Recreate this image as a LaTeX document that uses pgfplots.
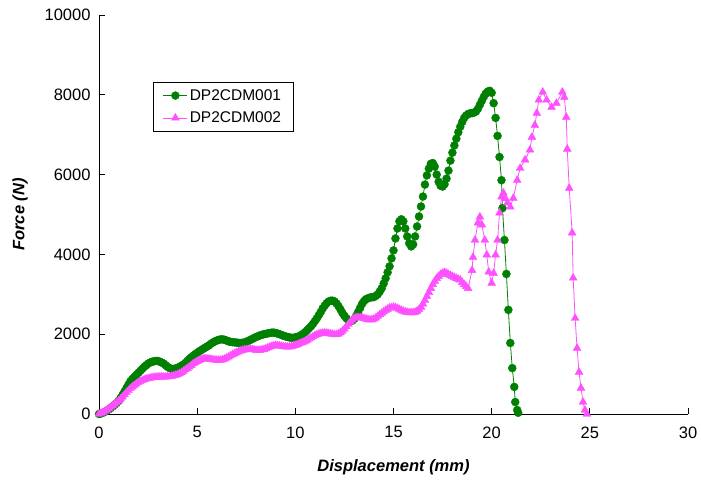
\documentclass[border=0pt]{standalone}
\usepackage{pgfplots}
\pgfplotsset{compat=1.18}
\usepackage{fontspec}
\setmainfont{Liberation Sans}
\definecolor{dgreen}{RGB}{0,128,0}
\definecolor{lpink}{RGB}{255,80,255}
\begin{document}
\begin{tikzpicture}
\useasboundingbox (-99pt,-68pt) rectangle (602pt,414pt);
\begin{axis}[
  scale only axis, width=589pt, height=399pt,
  xmin=0, xmax=30, ymin=0, ymax=10000,
  xtick={0,5,...,30}, ytick={0,2000,...,10000},
  scaled y ticks=false,
  axis x line*=bottom, axis y line*=left,
  tick align=inside, major tick length=6pt,
  tick style={black, line width=0.8pt},
  axis line style={black, line width=0.8pt},
  font=\fontsize{16.5}{19}\selectfont,
  /pgf/number format/assume math mode=true,
  /pgf/number format/1000 sep={},
  xticklabel style={yshift=-9pt},
  yticklabel style={xshift=-5pt},
  xlabel={\bfseries\itshape Displacement (mm)},
  ylabel={\bfseries\itshape Force (N)},
  every axis x label/.style={at={(axis description cs:0.5,-0.133)},anchor=center},
  every axis y label/.style={at={(axis description cs:-0.134,0.5)},rotate=90,anchor=center},
  legend style={at={(0.091,0.832)}, anchor=north west, draw=black, line width=0.8pt,
    font=\fontsize{15.5}{18}\selectfont, row sep=6pt, inner xsep=10pt, inner ysep=5pt,
    legend cell align=left},
  legend image code/.code={\draw[#1] (0pt,0pt) -- (24pt,0pt); \draw[#1, mark repeat=2, mark phase=2] plot coordinates {(0pt,0pt) (12pt,0pt) (24pt,0pt)};},
]
\addplot[color=dgreen, line width=0.8pt, mark=*, mark size=4pt, mark options={fill=dgreen, draw=dgreen, line width=0.4pt}] coordinates {
(0.0,0) (0.1,10) (0.2,30) (0.3,55) (0.4,80) (0.5,115) (0.6,150) (0.7,190) (0.8,230) (0.9,275)
(1.0,330) (1.1,400) (1.2,480) (1.3,565) (1.4,650) (1.5,735) (1.6,820) (1.7,880) (1.8,930) (1.9,980)
(2.0,1030) (2.1,1080) (2.2,1130) (2.3,1180) (2.4,1220) (2.5,1260) (2.6,1290) (2.7,1310) (2.8,1320) (2.9,1330)
(3.0,1330) (3.1,1310) (3.2,1290) (3.3,1260) (3.4,1220) (3.5,1180) (3.6,1150) (3.7,1130) (3.8,1130) (3.9,1140)
(4.0,1160) (4.1,1180) (4.2,1210) (4.3,1240) (4.4,1280) (4.5,1330) (4.6,1380) (4.7,1420) (4.8,1460) (4.9,1500)
(5.0,1530) (5.1,1570) (5.2,1600) (5.3,1630) (5.4,1660) (5.5,1690) (5.6,1720) (5.7,1760) (5.8,1790) (5.9,1820)
(6.0,1840) (6.1,1860) (6.2,1870) (6.3,1870) (6.4,1860) (6.5,1840) (6.6,1820) (6.7,1810) (6.8,1800) (6.9,1795)
(7.0,1790) (7.1,1785) (7.2,1780) (7.3,1785) (7.4,1790) (7.5,1810) (7.6,1830) (7.7,1855) (7.8,1880) (7.9,1905)
(8.0,1930) (8.1,1950) (8.2,1970) (8.3,1985) (8.4,2000) (8.5,2010) (8.6,2020) (8.7,2030) (8.8,2040) (8.9,2040)
(9.0,2030) (9.1,2015) (9.2,2000) (9.3,1980) (9.4,1960) (9.5,1945) (9.6,1930) (9.7,1920) (9.8,1910) (9.9,1910)
(10.0,1920) (10.1,1935) (10.2,1950) (10.3,1980) (10.4,2010) (10.5,2050) (10.6,2100) (10.7,2150) (10.8,2200) (10.9,2260)
(11.0,2330) (11.1,2400) (11.2,2480) (11.3,2560) (11.4,2650) (11.5,2720) (11.6,2780) (11.7,2820) (11.8,2840) (11.9,2840)
(12.0,2820) (12.1,2770) (12.2,2700) (12.3,2620) (12.4,2530) (12.5,2460) (12.6,2400) (12.7,2350) (12.8,2330) (12.9,2340)
(13.0,2380) (13.1,2460) (13.2,2560) (13.3,2660) (13.4,2760) (13.5,2830) (13.6,2880) (13.7,2900) (13.8,2920) (13.9,2925)
(14.0,2930) (14.1,2960) (14.2,3000) (14.3,3070) (14.4,3150) (14.5,3270) (14.6,3400) (14.7,3550) (14.8,3700) (14.9,3900)
(15.0,4100) (15.1,4400) (15.2,4650) (15.3,4830) (15.4,4880)
(15.5,4830) (15.6,4650) (15.7,4450) (15.8,4280) (15.9,4200) (16.0,4250) (16.1,4450) (16.2,4700) (16.3,4950) (16.4,5200)
(16.5,5450) (16.6,5750) (16.7,5980) (16.8,6150) (16.9,6270) (17.0,6290) (17.1,6200) (17.2,6000) (17.3,5820) (17.4,5720)
(17.5,5700) (17.6,5760) (17.7,5900) (17.8,6100) (17.9,6350) (18.0,6550) (18.1,6730) (18.2,6900) (18.3,7060) (18.4,7200)
(18.5,7320) (18.6,7420) (18.7,7480) (18.8,7520) (18.9,7535) (19.0,7540) (19.1,7555) (19.2,7580) (19.3,7650) (19.4,7750)
(19.5,7850) (19.6,7950) (19.7,8030) (19.8,8080) (19.9,8100) (20.0,8050) (20.1,7790) (20.2,7420) (20.3,6970)
(20.4,6440) (20.5,5860) (20.55,5160) (20.65,4360) (20.75,3510) (20.85,2610) (20.95,1780) (21.05,1150) (21.15,680) (21.2,300)
(21.3,100) (21.35,30)
};
\addlegendentry{DP2CDM001}
\addplot[color=lpink, line width=0.8pt, mark=triangle*, mark size=4.5pt, mark options={fill=lpink, draw=lpink, line width=0.4pt}] coordinates {
(0.0,0) (0.1,20) (0.2,40) (0.3,70) (0.4,100) (0.5,135) (0.6,170) (0.7,210) (0.8,250) (0.9,290)
(1.0,330) (1.1,380) (1.2,430) (1.3,485) (1.4,540) (1.5,590) (1.6,640) (1.7,680) (1.8,720) (1.9,755)
(2.0,790) (2.1,815) (2.2,840) (2.3,860) (2.4,880) (2.5,890) (2.6,900) (2.7,910) (2.8,920) (2.9,925)
(3.0,930) (3.1,930) (3.2,930) (3.3,930) (3.4,930) (3.5,935) (3.6,940) (3.7,950) (3.8,960) (3.9,975)
(4.0,990) (4.1,1015) (4.2,1040) (4.3,1075) (4.4,1110) (4.5,1145) (4.6,1180) (4.7,1220) (4.8,1260) (4.9,1290)
(5.0,1320) (5.1,1345) (5.2,1370) (5.3,1380) (5.4,1390) (5.5,1385) (5.6,1380) (5.7,1370) (5.8,1360) (5.9,1355)
(6.0,1350) (6.1,1350) (6.2,1350) (6.3,1365) (6.4,1380) (6.5,1405) (6.6,1430) (6.7,1460) (6.8,1490) (6.9,1515)
(7.0,1540) (7.1,1560) (7.2,1580) (7.3,1595) (7.4,1610) (7.5,1615) (7.6,1620) (7.7,1620) (7.8,1620) (7.9,1610)
(8.0,1600) (8.1,1600) (8.2,1600) (8.3,1610) (8.4,1620) (8.5,1640) (8.6,1660) (8.7,1680) (8.8,1700) (8.9,1710)
(9.0,1720) (9.1,1715) (9.2,1710) (9.3,1700) (9.4,1690) (9.5,1685) (9.6,1680) (9.7,1685) (9.8,1690) (9.9,1705)
(10.0,1720) (10.1,1740) (10.2,1760) (10.3,1780) (10.4,1800) (10.5,1825) (10.6,1850) (10.7,1880) (10.8,1910) (10.9,1940)
(11.0,1970) (11.1,1990) (11.2,2010) (11.3,2020) (11.4,2030) (11.5,2030) (11.6,2030) (11.7,2020) (11.8,2010) (11.9,2000)
(12.0,1990) (12.1,1995) (12.2,2010) (12.3,2040) (12.4,2080) (12.5,2130) (12.6,2190) (12.7,2250) (12.8,2310) (12.9,2360)
(13.0,2400) (13.1,2415) (13.2,2420) (13.3,2415) (13.4,2410) (13.5,2395) (13.6,2380) (13.7,2370) (13.8,2360) (13.9,2365)
(14.0,2380) (14.1,2410) (14.2,2450) (14.3,2490) (14.4,2530) (14.5,2565) (14.6,2600) (14.7,2630) (14.8,2660) (14.9,2670)
(15.0,2680) (15.1,2670) (15.2,2650) (15.3,2625) (15.4,2600) (15.5,2580) (15.6,2560) (15.7,2550) (15.8,2540) (15.9,2540)
(16.0,2540) (16.1,2555) (16.2,2580) (16.3,2620) (16.4,2680) (16.5,2760) (16.6,2850) (16.7,2950) (16.8,3050) (16.9,3150)
(17.0,3250) (17.1,3330) (17.2,3400) (17.3,3450) (17.4,3500) (17.5,3530) (17.6,3550) (17.7,3530) (17.8,3500) (17.9,3475)
(18.0,3450) (18.1,3425) (18.2,3400) (18.3,3380) (18.4,3360) (18.5,3300) (18.6,3250) (18.7,3200) (18.8,3150)
(19.0,3600) (19.05,3930) (19.15,4360) (19.3,4790) (19.4,4940)
(19.5,4740) (19.65,4360) (19.75,3990) (19.85,3560) (20.0,3280) (20.1,3530) (20.2,3990) (20.3,4360) (20.4,5040) (20.5,5440)
(20.6,5540) (20.7,5400) (20.8,5290) (20.95,5190) (21.1,5410) (21.3,5860) (21.45,6160) (21.7,6370) (21.95,6620) (22.05,6940)
(22.2,7240) (22.3,7540) (22.4,7870) (22.6,8070) (22.8,7870) (23.05,7690) (23.3,7790) (23.6,8070) (23.7,7940) (23.8,7440)
(23.85,6640) (23.95,5660) (24.1,4540) (24.15,3410) (24.25,2400) (24.35,1650) (24.45,1050) (24.55,650) (24.65,300) (24.75,100)
(24.85,0)
};
\addlegendentry{DP2CDM002}
\end{axis}
\end{tikzpicture}
\end{document}
